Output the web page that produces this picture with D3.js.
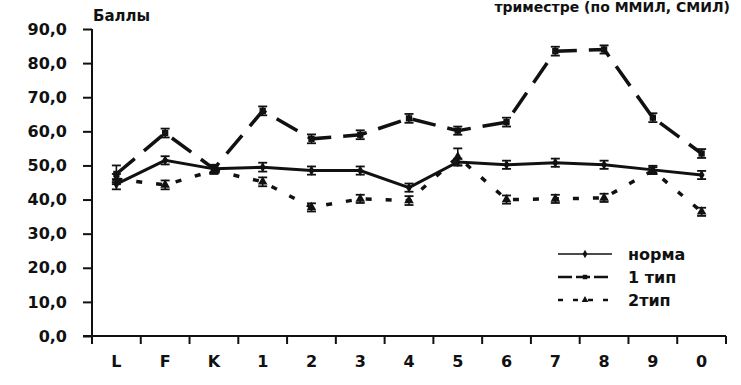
<!DOCTYPE html>
<html><head><meta charset="utf-8">
<script src="https://cdn.jsdelivr.net/npm/d3@7"></script>
<style>
body{margin:0;background:#fff;}
svg{display:block;}
text{font-family:"DejaVu Sans",sans-serif;font-weight:bold;fill:#111;}
</style></head>
<body><svg id="c" width="741" height="385"></svg>
<script>
const categories = ["L","F","K","1","2","3","4","5","6","7","8","9","0"];
const normaValues = [44.5,51.5,49.0,49.5,48.5,48.5,43.5,51.0,50.2,50.8,50.2,48.7,47.2];
const normaErr    = [1.5,1.2,1.0,1.3,1.2,1.2,1.2,1.0,1.2,1.2,1.2,1.2,1.2];
const tip1Values  = [47.5,59.5,49.0,66.0,57.8,59.0,63.8,60.2,62.7,83.5,84.0,64.0,53.5];
const tip1Err     = [2.5,1.3,1.2,1.3,1.3,1.3,1.3,1.2,1.3,1.3,1.2,1.3,1.3];
const tip2Values  = [46.0,44.3,48.5,45.2,37.7,40.2,39.7,52.5,40.0,40.2,40.5,48.5,36.4];
const tip2Err     = [1.5,1.3,1.0,1.3,1.2,1.2,1.3,2.5,1.2,1.2,1.2,1.0,1.2];
const yTicks = [0,10,20,30,40,50,60,70,80,90];
const seriesNames = ["норма","1 тип","2тип"];
const yTitle = "Баллы";
const topText = "триместре (по ММИЛ, СМИЛ)";

const svg = d3.select("#c");
const x = d3.scaleBand().domain(categories).range([92,726]).padding(0);
const y = d3.scaleLinear().domain([0,90]).range([336,29]);
const cx = c => x(c) + x.bandwidth()/2;

// top text
svg.append("text").attr("x",730).attr("y",12).attr("text-anchor","end")
  .style("font-size","14px").text(topText);

// y axis
const ya = svg.append("g").attr("transform","translate(92,0)")
  .call(d3.axisLeft(y).tickValues(yTicks).tickSize(9).tickPadding(16)
    .tickFormat(d => d.toFixed(1).replace(".",",")));
ya.select(".domain").attr("stroke","#111").attr("stroke-width",2).attr("d","M0,29V336");
ya.selectAll(".tick line").attr("stroke","#111").attr("stroke-width",2);
ya.selectAll(".tick text").style("font-size","16px").attr("fill","#111");

// x axis
const xa = svg.append("g").attr("transform","translate(0,336)")
  .call(d3.axisBottom(x).tickSize(0).tickPadding(20));
xa.select(".domain").attr("stroke","#111").attr("stroke-width",2).attr("d","M83,0H726");
xa.selectAll(".tick text").style("font-size","16px").attr("fill","#111");
const bounds = categories.map(c => x(c)).concat([x.range()[1]]);
xa.selectAll("line.bt").data(bounds).enter().append("line").attr("class","bt")
  .attr("x1",d=>d).attr("x2",d=>d).attr("y1",0).attr("y2",8)
  .attr("stroke","#111").attr("stroke-width",2);

// y title
svg.append("text").attr("x",93).attr("y",21).style("font-size","15px").text(yTitle);

const series = [
  {name:seriesNames[0], vals:normaValues, err:normaErr, dash:null, marker:"diamond", w:3},
  {name:seriesNames[1], vals:tip1Values, err:tip1Err, dash:"24,12", marker:"square", w:3.5},
  {name:seriesNames[2], vals:tip2Values, err:tip2Err, dash:"6,14", marker:"triangle", w:3.5}
];
const symType = {diamond:d3.symbolDiamond, square:d3.symbolSquare, triangle:d3.symbolTriangle};
const symSize = {diamond:30, square:40, triangle:40};

const line = d3.line().x(d=>cx(d.c)).y(d=>y(d.v));
series.forEach(s => {
  const pts = categories.map((c,i)=>({c, v:s.vals[i], e:s.err[i]}));
  svg.append("path").datum(pts).attr("d",line).attr("fill","none")
    .attr("stroke","#111").attr("stroke-width",s.w)
    .attr("stroke-dasharray",s.dash);
  const g = svg.append("g");
  const eb = g.selectAll("g").data(pts).enter().append("g");
  eb.append("line").attr("x1",d=>cx(d.c)).attr("x2",d=>cx(d.c))
    .attr("y1",d=>y(d.v+d.e)).attr("y2",d=>y(d.v-d.e)).attr("stroke","#111").attr("stroke-width",1.6);
  eb.append("line").attr("x1",d=>cx(d.c)-4.5).attr("x2",d=>cx(d.c)+4.5)
    .attr("y1",d=>y(d.v+d.e)).attr("y2",d=>y(d.v+d.e)).attr("stroke","#111").attr("stroke-width",1.8);
  eb.append("line").attr("x1",d=>cx(d.c)-4.5).attr("x2",d=>cx(d.c)+4.5)
    .attr("y1",d=>y(d.v-d.e)).attr("y2",d=>y(d.v-d.e)).attr("stroke","#111").attr("stroke-width",1.8);
  eb.append("path").attr("transform",d=>`translate(${cx(d.c)},${y(d.v)})`)
    .attr("d",d3.symbol().type(symType[s.marker]).size(symSize[s.marker])).attr("fill","#111");
});

// legend
const lg = svg.append("g");
const legendDash = [null,"14,4","5,10"];
series.forEach((s,i) => {
  const yy = 254 + i*23;
  lg.append("line").attr("x1",558).attr("x2",612).attr("y1",yy).attr("y2",yy)
    .attr("stroke","#111").attr("stroke-width",i===0?1.5:2.5)
    .attr("stroke-dasharray",legendDash[i]);
  lg.append("path").attr("transform",`translate(585,${yy})`)
    .attr("d",d3.symbol().type(symType[s.marker]).size(20)).attr("fill","#111");
  lg.append("text").attr("x",628).attr("y",yy+6).style("font-size","16px").text(s.name);
});
</script></body></html>
